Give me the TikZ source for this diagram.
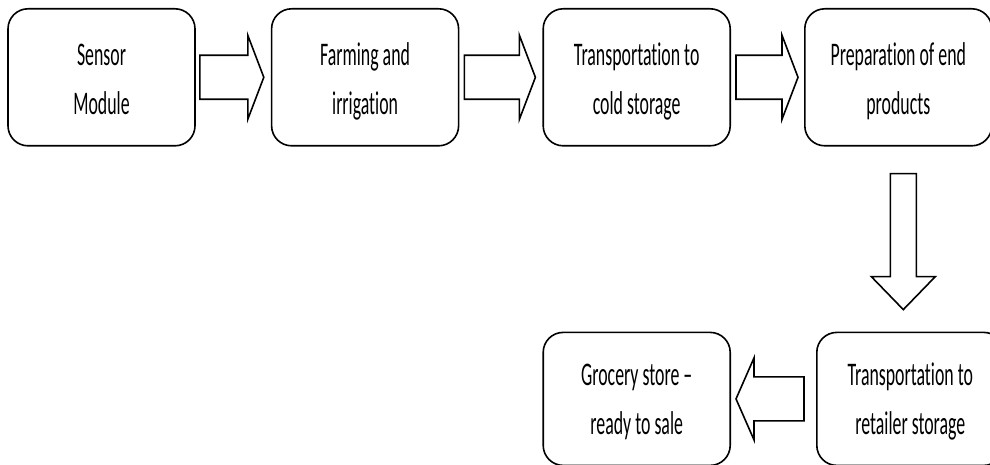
\documentclass[tikz,border=0pt]{standalone}
\usepackage{fontspec}
\setmainfont{Carlito}[FakeStretch=0.54, Ligatures={NoCommon}]
\usetikzlibrary{positioning, calc}
\tikzset{
  stage/.style={rectangle, draw, line width=1.6pt, rounded corners=20pt, minimum width=187pt, inner ysep=0pt, text height=106pt, text depth=31pt, align=center, font=\fontsize{33}{49}\selectfont},
  fat/.style n args={3}{draw, line width=1.6pt, line join=miter, to path={
    let \p1=(\tikztostart), \p2=(\tikztotarget), \p3=($(\p2)!#3!(\p1)$) in
    ($(\p1)!#1!90:(\p2)$) -- ($(\p3)!#1!90:(\p2)$) -- ($(\p3)!#2!90:(\p2)$) -- (\p2)
    -- ($(\p3)!#2!-90:(\p2)$) -- ($(\p3)!#1!-90:(\p2)$) -- ($(\p1)!#1!-90:(\p2)$) -- cycle}}
}

\begin{document}
\begin{tikzpicture}
		\useasboundingbox (0,0) rectangle (990pt,-465pt);
		\node (sensor) [stage, anchor=north] at (101.5pt,-8pt) {Sensor\\Module};
		\node (farming) [stage, right=75pt of sensor] {Farming and\\irrigation};
		\node (cold) [stage, right=83pt of farming] {Transportation to\\cold storage};
		\node (prep) [stage, right=73pt of cold] {Preparation of end\\products};
		\node (retailer) [stage, text height=102pt, below=185pt of prep, xshift=12pt] {Transportation to\\retailer storage};
		\node (grocery) [stage, text height=102pt, left=85pt of retailer] {Grocery store –\\ready to sale};
		
		\draw[fat={22pt}{42pt}{16pt}] ($(sensor.east)+(4pt,0)$) to ($(farming.west)+(-7pt,0)$);
		\draw[fat={22pt}{42pt}{16pt}] ($(farming.east)+(5pt,0)$) to ($(cold.west)+(-7pt,0)$);
		\draw[fat={22pt}{42pt}{16pt}] ($(cold.east)+(5pt,0)$) to ($(prep.west)+(-6pt,0)$);
		\draw[fat={13pt}{32pt}{33pt}] ($(prep.south)+(5pt,-27pt)$) to ($(retailer.north)+(-7pt,22pt)$);
		\draw[fat={22pt}{41pt}{18pt}] ($(retailer.west)+(-12pt,0)$) to ($(grocery.east)+(5pt,0)$);
	\end{tikzpicture}
\end{document}
